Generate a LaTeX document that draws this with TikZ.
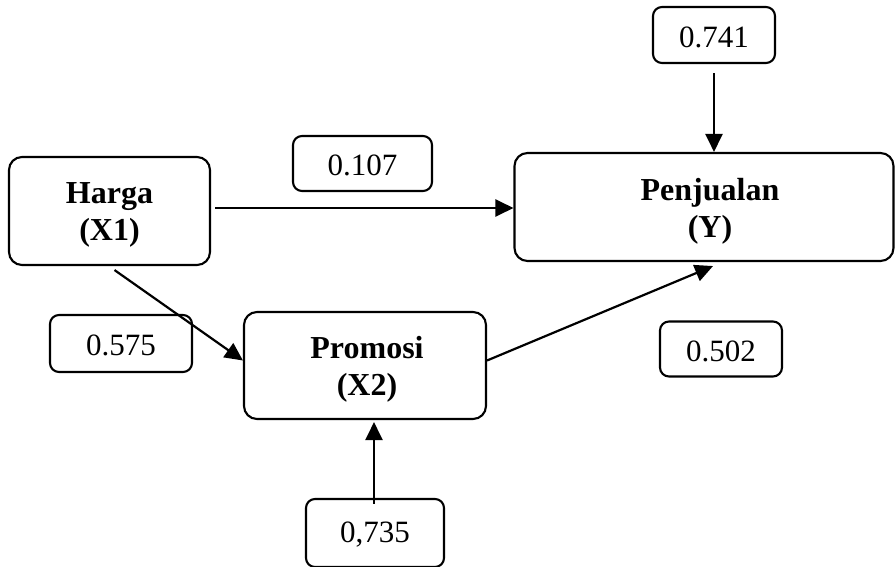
\documentclass[tikz,border=0pt]{standalone}
\usepackage{fontspec}
\setmainfont{Liberation Serif}
\usetikzlibrary{arrows.meta}
\begin{document}
\begin{tikzpicture}[x=1pt,y=-1pt,
  bigbox/.style={draw,line width=2.1pt,rounded corners=13pt,inner sep=0pt},
  bigtxt/.style={align=center,font=\fontsize{32}{37}\selectfont\bfseries,inner sep=0pt},
  valbox/.style={draw,line width=2.1pt,rounded corners=9pt,inner sep=0pt},
  valtxt/.style={font=\fontsize{31}{37}\selectfont,inner sep=0pt},
  arr/.style={line width=2.2pt,-{Triangle[length=18pt,width=17pt]}}]
\useasboundingbox (0,0) rectangle (896,567);
\node[bigbox,minimum width=201pt,minimum height=108pt] (harga) at (109.5,211) {};
\node[bigbox,minimum width=379pt,minimum height=108pt] (jual) at (704,207) {};
\node[bigbox,minimum width=242pt,minimum height=107pt] (promo) at (365,365.5) {};
\node[bigtxt] (hargat) at ([yshift=-4pt]harga.center) {Harga\\(X1)};
\node[bigtxt] (jualt) at ([xshift=6pt,yshift=-4pt]jual.center) {Penjualan\\(Y)};
\node[bigtxt] (promot) at ([xshift=2pt,yshift=-4pt]promo.center) {Promosi\\(X2)};
\node[valbox,minimum width=139pt,minimum height=55pt] (v107) at (362.5,163.5) {};
\node[valbox,minimum width=122pt,minimum height=56pt] (v741) at (714,35) {};
\node[valbox,minimum width=142pt,minimum height=57pt] (v575) at (121,343.5) {};
\node[valbox,minimum width=122pt,minimum height=55pt] (v502) at (721,349) {};
\node[valbox,minimum width=138pt,minimum height=68pt] (v735) at (375,533) {};
\node[valtxt] (v107t) at ([yshift=-2pt]v107.center) {0.107};
\node[valtxt] (v741t) at ([yshift=-2pt]v741.center) {0.741};
\node[valtxt] (v575t) at ([yshift=-2pt]v575.center) {0.575};
\node[valtxt] (v502t) at ([yshift=-2pt]v502.center) {0.502};
\node[valtxt] (v735t) at ([yshift=-2pt]v735.center) {0,735};
\draw[arr] ([xshift=4pt]harga.east |- 0,208) -- (jual.west |- 0,208);
\draw[arr] ([xshift=5pt,yshift=-4pt]harga.south) -- ([yshift=5pt]promo.west);
\draw[arr] ([yshift=5pt]promo.east) -- ([xshift=9pt,yshift=-4pt]jual.south);
\draw[arr] ([yshift=-9pt]v741.south) -- (v741.south |- jual.north);
\draw[arr] ([xshift=-1pt,yshift=-6pt]v735.north) -- ([xshift=9pt,yshift=-2pt]promo.south);
\end{tikzpicture}
\end{document}
